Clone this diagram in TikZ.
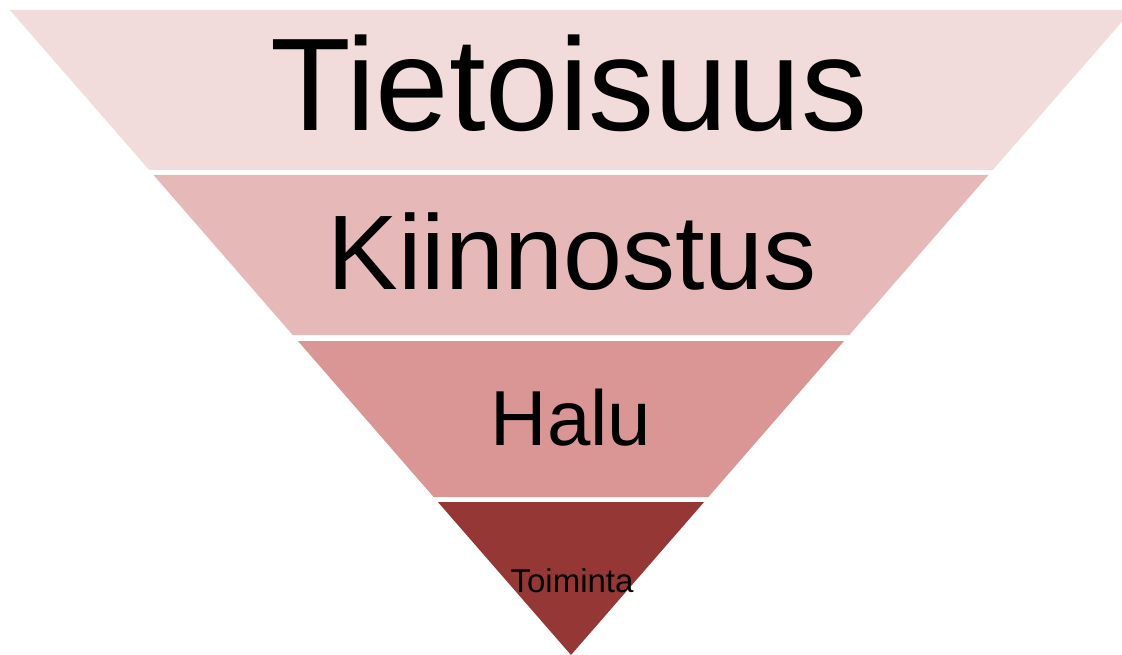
\documentclass[tikz,border=0pt]{standalone}
\usepackage{fontspec}
\setmainfont{Liberation Sans}
\usetikzlibrary{arrows,shapes}
\definecolor{tasoA}{HTML}{F2DCDB}
\definecolor{tasoB}{HTML}{E6B9B8}
\definecolor{tasoC}{HTML}{D99694}
\definecolor{tasoD}{HTML}{953735}
\tikzset{teksti/.style={anchor=base,inner sep=0pt,text=black}}

\begin{document}
\begin{tikzpicture}[x=1pt,y=-1pt]
\useasboundingbox (0,0) rectangle (1122,655);
\clip (0,0) rectangle (1122,655);
\fill[tasoA] (9.8,10)--(1132.2,10)--(992.8,170)--(149.2,170)--cycle;
\fill[tasoB] (153.5,175)--(988.5,175)--(849.3,335)--(292.7,335)--cycle;
\fill[tasoC] (297.9,341)--(844.1,341)--(708.4,497)--(433.6,497)--cycle;
\fill[tasoD] (437.9,502)--(704.1,502)--(571,655)--cycle;
\draw
(569,131)node[teksti,font=\fontsize{132}{132}\selectfont](tietoisuus){Tietoisuus}
(572,289)node[teksti,font=\fontsize{106}{106}\selectfont](kiinnostus){Kiinnostus}
(571,445)node[teksti,font=\fontsize{78}{78}\selectfont](halu){Halu}
(572,592)node[teksti,font=\fontsize{33}{33}\selectfont](toiminta){Toiminta}
;
\end{tikzpicture}
\end{document}
